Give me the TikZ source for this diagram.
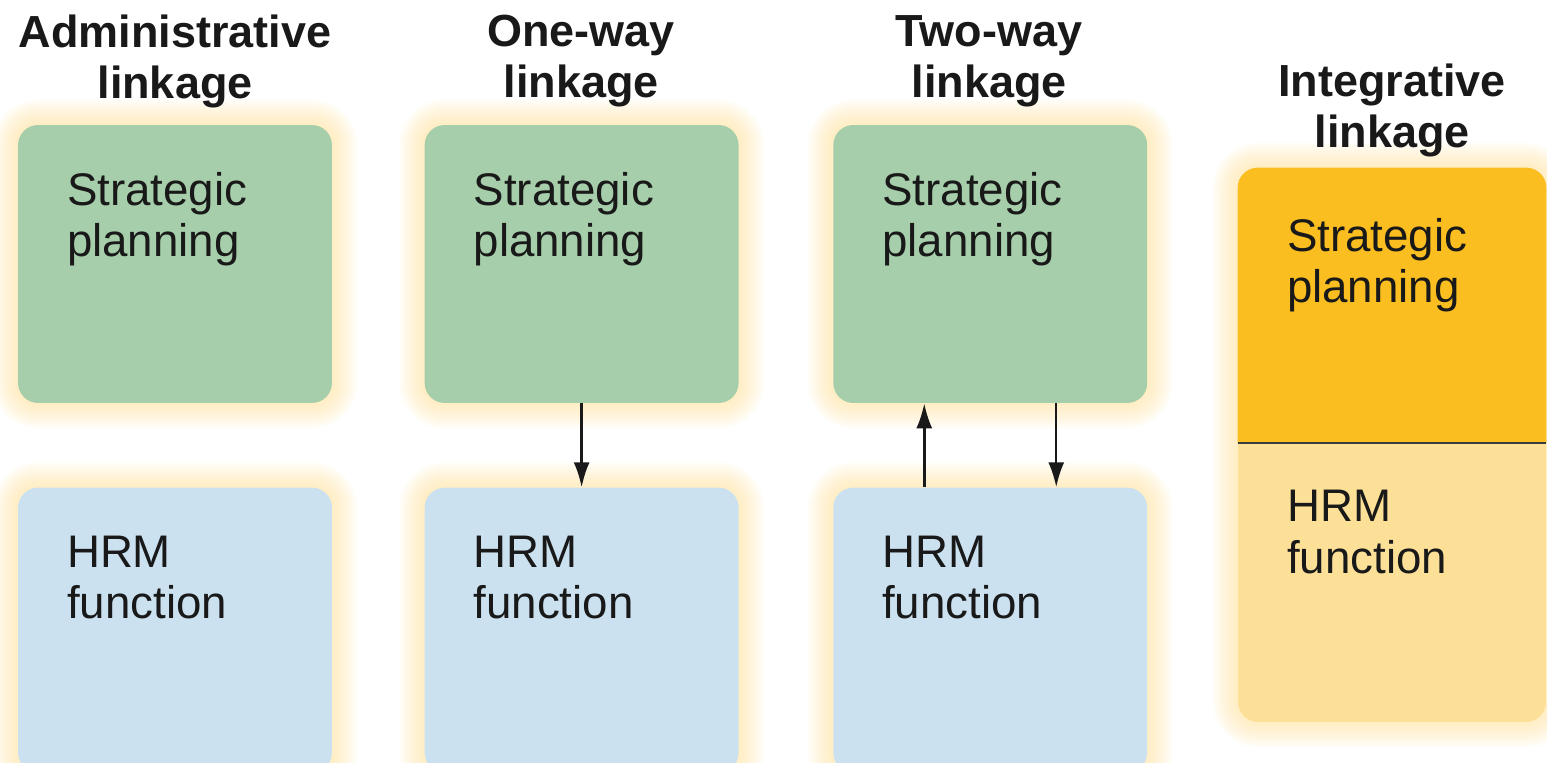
\documentclass[tikz,border=0pt]{standalone}
\usepackage{fontspec}
\setmainfont{Liberation Sans}
\usetikzlibrary{positioning,arrows.meta,backgrounds}

\definecolor{stratgreen}{RGB}{166,206,170}
\definecolor{hrmblue}{RGB}{203,225,240}
\definecolor{intdark}{RGB}{251,190,32}
\definecolor{intlight}{RGB}{253,224,152}
\definecolor{glowc}{RGB}{255,218,130}
\definecolor{inkc}{RGB}{25,25,25}

% soft halo behind a box
\newcommand{\glowbox}[1]{%
  \foreach \g in {1,...,10}{%
    \fill[glowc, opacity=0.06, rounded corners=0.4cm+0.05*\g cm]
      ([shift={(-0.05*\g cm,0.05*\g cm)}]#1.north west) rectangle
      ([shift={(0.05*\g cm,-0.05*\g cm)}]#1.south east);
  }%
}

\begin{document}
\begin{tikzpicture}[x=0.02cm, y=-0.02cm,
  node distance=1.84cm,
  stratbox/.style={fill=stratgreen, rounded corners=0.4cm, minimum width=6.28cm, minimum height=5.56cm, inner sep=0},
  hrmbox/.style={fill=hrmblue, rounded corners=0.4cm, minimum width=6.28cm, minimum height=5.7cm, inner sep=0},
  intbox/.style={fill=intlight, rounded corners=0.4cm, minimum width=6.16cm, minimum height=11.08cm, inner sep=0},
  boxtext/.style={anchor=north west, inner sep=0, align=left, text=inkc, font=\fontsize{26}{29.5}\selectfont},
  title/.style={anchor=north, inner sep=0, align=center, text=inkc, font=\bfseries\fontsize{25.6}{29}\selectfont},
  link/.style={-{Latex[length=0.5cm,width=0.32cm]}, line width=1.4pt, draw=inkc}]

  \clip (0,0) rectangle (1547,763);

  % Top row
  \node[stratbox] (S1) at (175,264) {};
  \node[stratbox, right=1.84cm of S1] (S2) {};
  \node[stratbox, right=1.88cm of S2] (S3) {};

  % Bottom row
  \node[hrmbox, below=1.68cm of S1.south, anchor=north] (H1) {};
  \node[hrmbox, below=1.68cm of S2.south, anchor=north] (H2) {};
  \node[hrmbox, below=1.68cm of S3.south, anchor=north] (H3) {};

  % Integrative box, split in two
  \node[intbox] (I4) at (1392,445) {};
  \coordinate (M) at (1392,443);
  \fill[intdark] (I4.west |- M) [rounded corners=0.4cm] -- (I4.north west) -- (I4.north east) [sharp corners] -- (I4.east |- M) -- cycle;
  \draw[line width=1.2pt, draw=inkc!85] (I4.west |- M) -- (I4.east |- M);

  % Halo
  \begin{scope}[on background layer]
    \glowbox{S1} \glowbox{S2} \glowbox{S3}
    \glowbox{H1} \glowbox{H2} \glowbox{H3}
    \glowbox{I4}
  \end{scope}

  % Box texts
  \node[boxtext] (S1t) at ([xshift=0.98cm, yshift=-0.94cm]S1.north west) {Strategic\\planning};
  \node[boxtext] (S2t) at ([xshift=0.98cm, yshift=-0.94cm]S2.north west) {Strategic\\planning};
  \node[boxtext] (S3t) at ([xshift=0.98cm, yshift=-0.94cm]S3.north west) {Strategic\\planning};
  \node[boxtext] (H1t) at ([xshift=0.98cm, yshift=-0.96cm]H1.north west) {HRM\\function};
  \node[boxtext] (H2t) at ([xshift=0.98cm, yshift=-0.96cm]H2.north west) {HRM\\function};
  \node[boxtext] (H3t) at ([xshift=0.98cm, yshift=-0.96cm]H3.north west) {HRM\\function};
  \node[boxtext] (S4t) at ([xshift=0.98cm, yshift=-1.0cm]I4.north west) {Strategic\\planning};
  \node[boxtext] (H4t) at ([xshift=0.98cm, yshift=-0.94cm]I4.west |- M) {HRM\\function};

  % Titles
  \node[title] (T1) at (175,15) {Administrative\\linkage};
  \node[title] (T2) at (581,15) {One-way\\linkage};
  \node[title] (T3) at (989,15) {Two-way\\linkage};
  \node[title] (T4) at (1392,64) {Integrative\\linkage};

  % Arrows
  \draw[link] (S2.south) -- (H2.north);
  \draw[link] ([xshift=-1.32cm]H3.north) -- ([xshift=-1.32cm]S3.south);
  \draw[link] ([xshift=1.32cm]S3.south) -- ([xshift=1.32cm]H3.north);

\end{tikzpicture}
\end{document}
